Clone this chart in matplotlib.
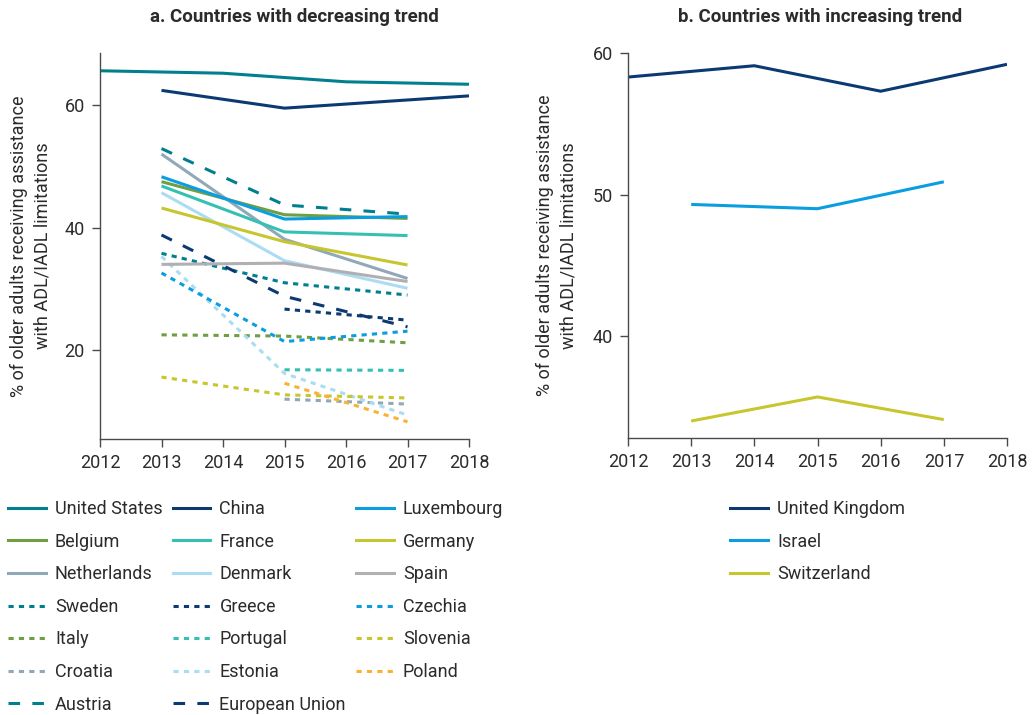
import matplotlib
matplotlib.use("Agg")
import matplotlib.pyplot as plt
from matplotlib.lines import Line2D

plt.rcParams["font.family"] = ["Roboto", "DejaVu Sans"]

# Survey years
years_hrs = [2012, 2014, 2016, 2018]
years_share = [2013, 2015, 2017]
years_share_late = [2015, 2017]
years_charls = [2013, 2015, 2018]

# Panel a: countries with decreasing trend (% receiving assistance)
united_states = [65.6, 65.2, 63.8, 63.4]
china = [62.4, 59.5, 61.5]
luxembourg = [48.3, 41.4, 41.8]
belgium = [47.5, 42.1, 41.5]
france = [46.8, 39.3, 38.7]
germany = [43.2, 37.7, 33.9]
netherlands = [52.0, 38.1, 31.7]
denmark = [45.7, 34.6, 30.1]
spain = [34.0, 34.2, 31.2]
sweden = [35.8, 31.0, 29.0]
greece = [26.7, 24.9]
czechia = [32.6, 21.4, 23.1]
italy = [22.5, 22.3, 21.2]
portugal = [16.8, 16.7]
slovenia = [15.6, 12.7, 12.2]
croatia = [12.0, 11.2]
estonia = [35.3, 16.2, 9.4]
poland = [14.6, 8.3]
austria = [52.9, 43.7, 42.2]
european_union = [38.8, 28.8, 23.8]

# Panel b: countries with increasing trend
united_kingdom = [58.3, 59.1, 57.3, 59.2]
israel = [49.3, 49.0, 50.9]
switzerland = [34.0, 35.7, 34.1]

year_ticks = [2012, 2013, 2014, 2015, 2016, 2017, 2018]
yticks_a = [20, 40, 60]
yticks_b = [40, 50, 60]

TEAL = "#00808f"
NAVY = "#0b3a73"
BLUE = "#0a9de0"
GREEN = "#6f9f42"
TURQ = "#35c0b2"
OLIVE = "#c8c62f"
SLATE = "#90a8b7"
SKY = "#aadcf4"
GREY = "#b0b0b2"
ORANGE = "#f9b234"

SOLID = "-"
DOT = (0, (1.7, 1.7))
DASH = (0, (3.8, 4.0))

series_a = [
    ("United States", years_hrs, united_states, TEAL, SOLID),
    ("Belgium", years_share, belgium, GREEN, SOLID),
    ("Netherlands", years_share, netherlands, SLATE, SOLID),
    ("Sweden", years_share, sweden, TEAL, DOT),
    ("Italy", years_share, italy, GREEN, DOT),
    ("Croatia", years_share_late, croatia, SLATE, DOT),
    ("Austria", years_share, austria, TEAL, DASH),
    ("China", years_charls, china, NAVY, SOLID),
    ("France", years_share, france, TURQ, SOLID),
    ("Denmark", years_share, denmark, SKY, SOLID),
    ("Greece", years_share_late, greece, NAVY, DOT),
    ("Portugal", years_share_late, portugal, TURQ, DOT),
    ("Estonia", years_share, estonia, SKY, DOT),
    ("European Union", years_share, european_union, NAVY, DASH),
    ("Luxembourg", years_share, luxembourg, BLUE, SOLID),
    ("Germany", years_share, germany, OLIVE, SOLID),
    ("Spain", years_share, spain, GREY, SOLID),
    ("Czechia", years_share, czechia, BLUE, DOT),
    ("Slovenia", years_share, slovenia, OLIVE, DOT),
    ("Poland", years_share_late, poland, ORANGE, DOT),
]

series_b = [
    ("United Kingdom", years_hrs, united_kingdom, NAVY, SOLID),
    ("Israel", years_share, israel, BLUE, SOLID),
    ("Switzerland", years_share, switzerland, OLIVE, SOLID),
]

LW = 2.2
TXT = "#2b2b2b"
AX = "#4a4a4a"
W, H = 1033, 715

fig = plt.figure(figsize=(W / 100, H / 100), dpi=100)


def frac(x0, y0, x1, y1):
    return [x0 / W, 1 - y1 / H, (x1 - x0) / W, (y1 - y0) / H]


ax_a = fig.add_axes(frac(100, 53, 469, 439))
ax_b = fig.add_axes(frac(628, 53, 1007, 438))

ylabel = "% of older adults receiving assistance\nwith ADL/IADL limitations"


def style(ax, ylim, yticks, labelpad):
    ax.set_xlim(2012, 2018)
    ax.set_ylim(*ylim)
    ax.set_xticks(year_ticks)
    ax.set_yticks(yticks)
    for s in ("top", "right"):
        ax.spines[s].set_visible(False)
    for s in ("left", "bottom"):
        ax.spines[s].set_color(AX)
        ax.spines[s].set_linewidth(1.0)
    ax.tick_params(axis="both", length=6, width=1.0, color=AX,
                   labelsize=13, labelcolor=TXT, pad=5)
    ax.set_ylabel(ylabel, fontsize=13, color=TXT, labelpad=labelpad,
                  linespacing=1.4)


def draw(ax, series):
    handles = []
    for name, xs, ys, color, ls in series:
        ax.plot(xs, ys, color=color, lw=LW, linestyle=ls,
                solid_capstyle="butt", dash_capstyle="butt")
        handles.append(Line2D([], [], color=color, lw=LW, linestyle=ls,
                              label=name))
    return handles


style(ax_a, (5.5, 68.5), yticks_a, 9)
style(ax_b, (32.8, 60), yticks_b, 11)
h_a = draw(ax_a, series_a)
h_b = draw(ax_b, series_b)

fig.text(294 / W, 1 - 17 / H, "a. Countries with decreasing trend",
         ha="center", va="center", fontsize=13.5, fontweight="bold", color=TXT)
fig.text(820 / W, 1 - 17 / H, "b. Countries with increasing trend",
         ha="center", va="center", fontsize=13.5, fontweight="bold", color=TXT)

leg_kw = dict(frameon=False, fontsize=13, handlelength=2.1,
              handletextpad=0.5, labelspacing=0.81, borderpad=0,
              borderaxespad=0, labelcolor=TXT)
fig.legend(handles=h_a, loc="upper left", ncol=3, columnspacing=0.55,
           bbox_to_anchor=(8 / W, 1 - 500 / H), **leg_kw)
fig.legend(handles=h_b, loc="upper left", ncol=1,
           bbox_to_anchor=(730 / W, 1 - 500 / H), **leg_kw)

fig.savefig("out.png", dpi=100)
